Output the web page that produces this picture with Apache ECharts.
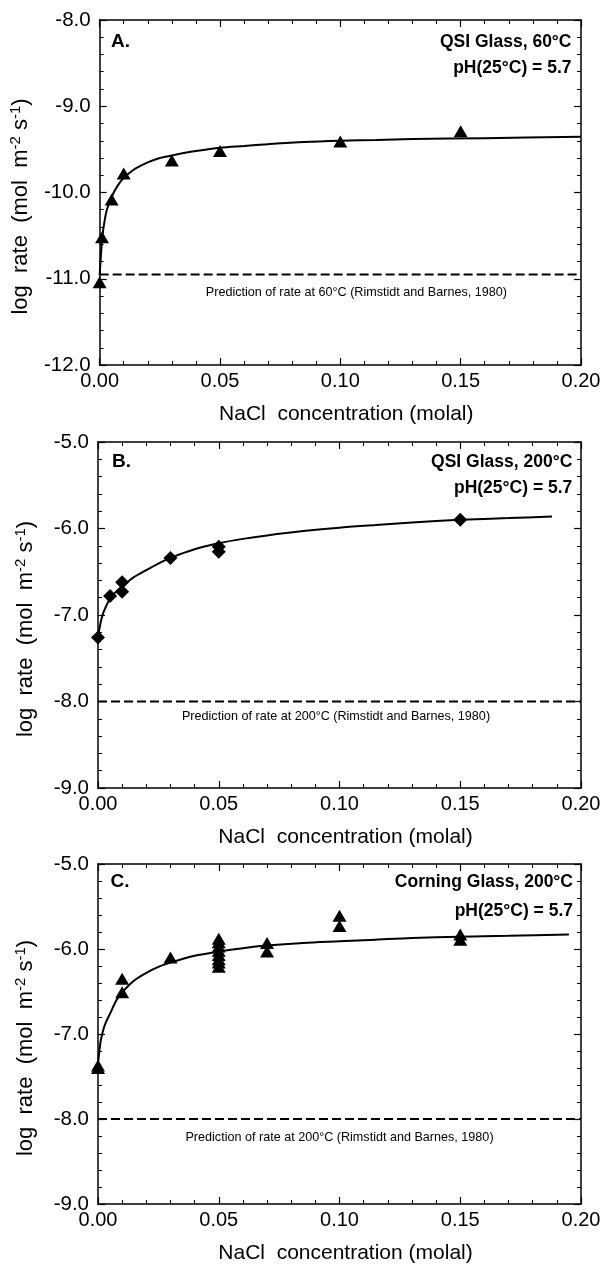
<!DOCTYPE html>
<html><head><meta charset="utf-8">
<script src="https://cdn.jsdelivr.net/npm/echarts@6/dist/echarts.min.js"></script>
<style>html,body{margin:0;padding:0;background:#fff}#c{width:604px;height:1265px}</style>
</head><body><div id="c"></div>
<script>
// ---------- DATA ----------
const xMin = 0, xMax = 0.20, xStep = 0.05;
const xAxisName = 'NaCl  concentration (molal)';

// Panel A: QSI Glass, 60°C (triangles)
const ptsA_x = [0, 0.001, 0.005, 0.01, 0.03, 0.05, 0.10, 0.15];
const ptsA_y = [-11.04, -10.52, -10.08, -9.78, -9.63, -9.52, -9.41, -9.29];
const fitA_x = [0, 0.0005, 0.001, 0.0015, 0.002, 0.003, 0.005, 0.0075, 0.01, 0.0125, 0.015, 0.02, 0.025, 0.03, 0.04, 0.05, 0.06, 0.07, 0.085, 0.10, 0.115, 0.13, 0.16, 0.20];
const fitA_y = [-10.96, -10.75, -10.55, -10.43, -10.34, -10.20, -10.05, -9.92, -9.83, -9.77, -9.72, -9.65, -9.60, -9.57, -9.52, -9.48, -9.46, -9.44, -9.415, -9.40, -9.39, -9.38, -9.37, -9.355];
const predA = -10.95;
const yRangeA = [-12, -8];

// Panel B: QSI Glass, 200°C (diamonds)
const ptsB_x = [0, 0.005, 0.01, 0.01, 0.03, 0.05, 0.05, 0.15];
const ptsB_y = [-7.26, -6.78, -6.62, -6.73, -6.34, -6.21, -6.27, -5.90];
const fitB_x = [0, 0.001, 0.002, 0.003, 0.005, 0.0075, 0.01, 0.015, 0.02, 0.025, 0.03, 0.04, 0.05, 0.06, 0.07, 0.085, 0.10, 0.115, 0.13, 0.15, 0.17, 0.188];
const fitB_y = [-7.26, -7.10, -6.99, -6.92, -6.81, -6.73, -6.67, -6.56, -6.48, -6.405, -6.34, -6.24, -6.17, -6.12, -6.08, -6.03, -5.99, -5.96, -5.93, -5.90, -5.88, -5.86];
const predB = -8.0;
const yRangeB = [-9, -5];

// Panel C: Corning Glass, 200°C (triangles)
const ptsC_x = [0, 0, 0.01, 0.01, 0.03, 0.05, 0.05, 0.05, 0.05, 0.05, 0.05, 0.05, 0.05, 0.07, 0.07, 0.10, 0.10, 0.15, 0.15];
const ptsC_y = [-7.37, -7.40, -6.35, -6.51, -6.10, -5.88, -5.92, -5.97, -6.02, -6.07, -6.12, -6.16, -6.21, -5.93, -6.03, -5.61, -5.73, -5.83, -5.89];
const fitC_x = [0, 0.001, 0.002, 0.003, 0.005, 0.0075, 0.01, 0.015, 0.02, 0.025, 0.03, 0.04, 0.05, 0.06, 0.07, 0.085, 0.10, 0.115, 0.13, 0.15, 0.17, 0.195];
const fitC_y = [-7.35, -7.10, -6.97, -6.88, -6.76, -6.61, -6.51, -6.37, -6.28, -6.21, -6.16, -6.08, -6.03, -5.99, -5.96, -5.93, -5.91, -5.89, -5.87, -5.855, -5.845, -5.83];
const predC = -8.0;
const yRangeC = [-9, -5];

// Text
const panelLetters = ['A.', 'B.', 'C.'];
const panelTitles = ['QSI Glass, 60°C', 'QSI Glass, 200°C', 'Corning Glass, 200°C'];
const panelPH = ['pH(25°C) = 5.7', 'pH(25°C) = 5.7', 'pH(25°C) = 5.7'];
const predTexts = [
  'Prediction of rate at 60°C (Rimstidt and Barnes, 1980)',
  'Prediction of rate at 200°C (Rimstidt and Barnes, 1980)',
  'Prediction of rate at 200°C (Rimstidt and Barnes, 1980)'
];
const yAxisName = 'log  rate  (mol  m{sup|-2} s{sup|-1})';

// ---------- LAYOUT ----------
const FONT = '"Liberation Sans", Arial, Helvetica, sans-serif';
const grids = [
  {left: 98, width: 483, top: 20, height: 345},
  {left: 98, width: 483, top: 442, height: 346},
  {left: 98, width: 483, top: 864, height: 344}
];
const letterPos = [[111, 41.7], [112, 461.7], [110.5, 881.7]];
const titleRight = [571.5, 572.3, 573];
const titleY = [[41.7, 68.3], [461.7, 488.3], [881.7, 910.7]];
const predTextPos = [[356.4, 292.5], [336, 716.7], [339.5, 1137.7]];

const zip = (xs, ys) => xs.map((x, i) => [x, ys[i]]);

const xAxes = [], yAxes = [], series = [];
const panels = [
  {pts: zip(ptsA_x, ptsA_y), fit: zip(fitA_x, fitA_y), pred: predA, yr: yRangeA, sym: 'triangle', size: [14, 12]},
  {pts: zip(ptsB_x, ptsB_y), fit: zip(fitB_x, fitB_y), pred: predB, yr: yRangeB, sym: 'diamond', size: [14, 14]},
  {pts: zip(ptsC_x, ptsC_y), fit: zip(fitC_x, fitC_y), pred: predC, yr: yRangeC, sym: 'triangle', size: [14, 12]}
];

const lineStyleAxis = {color: '#000', width: 1.5};
panels.forEach((p, i) => {
  const baseX = {
    gridIndex: i, type: 'value', min: xMin, max: xMax, interval: xStep,
    axisLine: {show: true, onZero: false, lineStyle: lineStyleAxis},
    axisTick: {show: true, inside: true, length: 7, lineStyle: {color: '#000', width: 1.2}},
    minorTick: {show: true, splitNumber: 5, length: 4, lineStyle: {color: '#000', width: 1}},
    splitLine: {show: false}, minorSplitLine: {show: false}
  };
  xAxes.push(Object.assign({}, baseX, {
    position: 'bottom',
    axisLabel: {show: true, formatter: v => v.toFixed(2), fontSize: 20, color: '#000', fontFamily: FONT, margin: 6},
    name: xAxisName, nameLocation: 'middle', nameGap: 39,
    nameTextStyle: {fontSize: 21, color: '#000', fontFamily: FONT, padding: [0, 0, 0, 12]}
  }));
  xAxes.push(Object.assign({}, baseX, {position: 'top', axisLabel: {show: false}}));
  const baseY = {
    gridIndex: i, type: 'value', min: p.yr[0], max: p.yr[1], interval: 1,
    axisLine: {show: true, onZero: false, lineStyle: lineStyleAxis},
    axisTick: {show: true, inside: true, length: 7, lineStyle: {color: '#000', width: 1.2}},
    minorTick: {show: true, splitNumber: 5, length: 4, lineStyle: {color: '#000', width: 1}},
    splitLine: {show: false}, minorSplitLine: {show: false}
  };
  yAxes.push(Object.assign({}, baseY, {
    position: 'left',
    axisLabel: {show: true, formatter: v => v.toFixed(1), fontSize: 20.5, color: '#000', fontFamily: FONT, margin: 9},
    name: yAxisName,
    nameLocation: 'middle', nameGap: 60, nameRotate: 90,
    nameTextStyle: {
      fontSize: 22, color: '#000', fontFamily: FONT, lineHeight: 25, padding: [0, 28, 0, 0],
      rich: {sup: {fontSize: 15, fontFamily: FONT, color: '#000', verticalAlign: 'top', lineHeight: 25}}
    }
  }));
  yAxes.push(Object.assign({}, baseY, {position: 'right', axisLabel: {show: false}}));

  const xb = i * 2, yl = i * 2;
  series.push({
    type: 'line', xAxisIndex: xb, yAxisIndex: yl, data: [[xMin, p.pred], [xMax, p.pred]],
    showSymbol: false, symbol: 'none', lineStyle: {color: '#000', width: 2, type: [9, 4]}, silent: true, z: 2
  });
  series.push({
    type: 'line', xAxisIndex: xb, yAxisIndex: yl, data: p.fit, smooth: 0.3,
    showSymbol: false, symbol: 'none', lineStyle: {color: '#000', width: 2}, silent: true, z: 3
  });
  series.push({
    type: 'scatter', xAxisIndex: xb, yAxisIndex: yl, data: p.pts, symbol: p.sym, symbolSize: p.size,
    itemStyle: {color: '#000', opacity: 1}, silent: true, z: 4
  });
});

const graphics = [];
panels.forEach((p, i) => {
  graphics.push({type: 'text', x: letterPos[i][0], y: letterPos[i][1],
    style: {text: panelLetters[i], font: 'bold 19px ' + FONT, fill: '#000', textAlign: 'left', textVerticalAlign: 'middle'}});
  graphics.push({type: 'text', x: titleRight[i], y: titleY[i][0],
    style: {text: panelTitles[i], font: 'bold 17.5px ' + FONT, fill: '#000', textAlign: 'right', textVerticalAlign: 'middle'}});
  graphics.push({type: 'text', x: titleRight[i], y: titleY[i][1],
    style: {text: panelPH[i], font: 'bold 17.5px ' + FONT, fill: '#000', textAlign: 'right', textVerticalAlign: 'middle'}});
  graphics.push({type: 'text', x: predTextPos[i][0], y: predTextPos[i][1],
    style: {text: predTexts[i], font: '12.6px ' + FONT, fill: '#000', textAlign: 'center', textVerticalAlign: 'middle'}});
});

const chart = echarts.init(document.getElementById('c'), null, {renderer: 'canvas'});
chart.setOption({
  animation: false,
  backgroundColor: '#fff',
  grid: grids,
  xAxis: xAxes,
  yAxis: yAxes,
  series: series,
  graphic: graphics
});
</script>
</body></html>
